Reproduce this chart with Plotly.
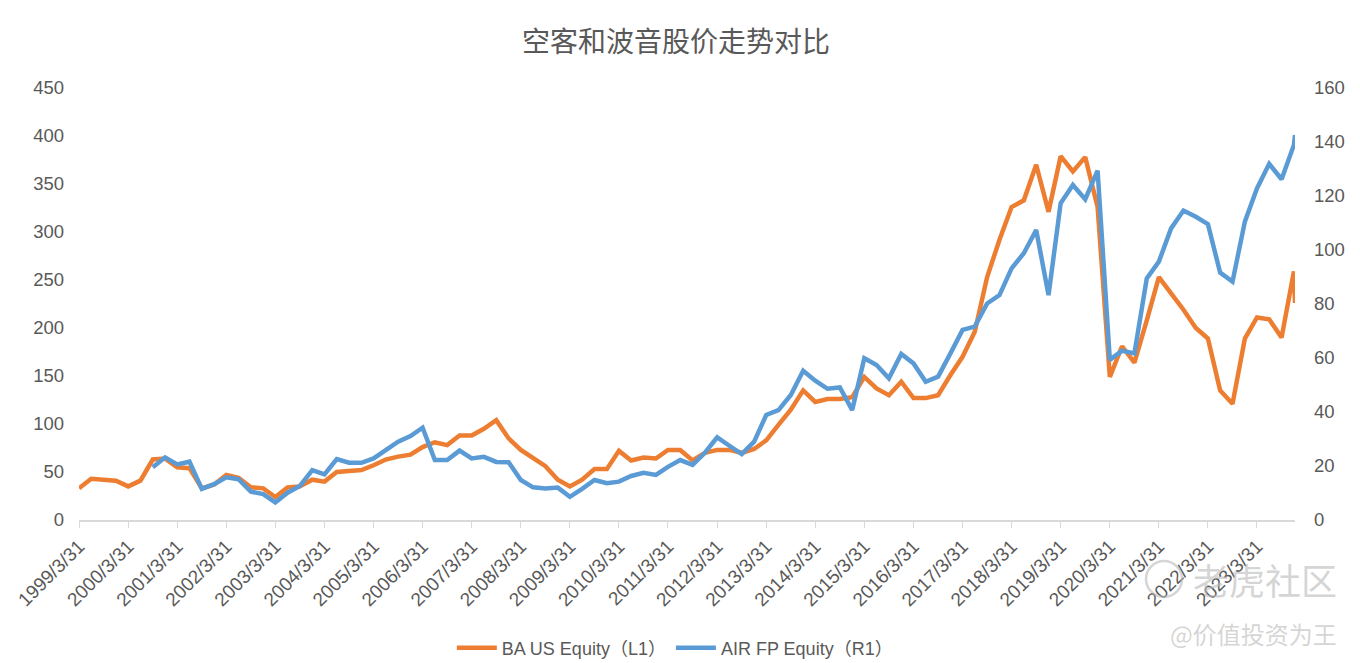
import pandas as pd
import plotly.graph_objects as go

# Quarter-end dates 1999/3/31 .. 2023/12/31, plus the latest observation
quarter_dates = list(pd.date_range("1999-03-31", periods=100, freq="QE"))
last_date = pd.Timestamp("2024-01-08")
dates = quarter_dates + [last_date]

ba_us = [33, 43, 42, 41, 35, 41, 63, 64, 55, 54,
         33, 37, 47, 44, 34, 33, 24, 34, 35, 42,
         40, 50, 51, 52, 57, 63, 66, 68, 76, 81,
         78, 88, 88, 95, 104, 85, 73, 64, 56, 42,
         35, 42, 53, 53, 72, 62, 65, 64, 73, 73,
         62, 70, 73, 73, 70, 74, 83, 99, 115, 135,
         123, 126, 126, 128, 149, 137, 130, 144, 127, 127,
         130, 151, 170, 196, 253, 292, 326, 333, 370, 321,
         379, 363, 378, 326, 149, 181, 164, 208, 253, 236,
         219, 200, 189, 135, 121, 189, 211, 209, 190, 259,
         226]

air_fp = [None, None, None, None, None, None,
          19.5, 23.2, 20.6, 21.6,
          11.5, 13.3, 15.8, 15.1, 10.5, 9.6, 6.5, 10.1, 12.6, 18.5,
          16.9, 22.6, 21.2, 21.2, 22.8, 25.9, 29.0, 31.1, 34.2, 22.2,
          22.2, 25.7, 22.8, 23.4, 21.5, 21.4, 14.8, 12.1, 11.7, 12.0,
          8.6, 11.5, 14.8, 13.6, 14.2, 16.3, 17.5, 16.7, 19.7, 22.2,
          20.4, 24.9, 30.6, 27.5, 24.4, 29.0, 38.9, 40.7, 46.3, 55.3,
          51.6, 48.6, 49.1, 40.7, 59.9, 57.4, 52.5, 61.5, 58.0, 51.2,
          53.1, 61.7, 70.4, 71.6, 80.2, 83.3, 93.2, 98.8, 107.4, 83.3,
          117.3, 124.1, 118.8, 129.4, 59.3, 62.7, 61.7, 89.5, 95.7, 108.0,
          114.6, 112.3, 109.6, 91.6, 88.3, 110.5, 122.8, 131.9, 126.2, 138.9,
          142.6]

tick_years = list(range(1999, 2024))
tick_vals = [f"{y}-03-31" for y in tick_years]
tick_text = [f"{y}/3/31" for y in tick_years]

title_text = "空客和波音股价走势对比"
name_ba = "BA US Equity（L1）"
name_air = "AIR FP Equity（R1）"
watermark_main = "老虎社区"
watermark_user = "@价值投资为王"

FONT = "Liberation Sans, Noto Sans CJK SC, sans-serif"
GREY = "#595959"
WM = "rgba(185,185,185,0.6)"

# the page body adds an 8px offset; size the figure so the plot lands where the reference has it
W, H = 1352, 655
PW = 1216  # plot-area width (px)
PH = 432   # plot-area height (px)


def px(x):  # page x -> paper x
    return (x - 79) / PW


def py(y):  # page y -> paper y
    return (520 - y) / PH


fig = go.Figure()
fig.add_trace(go.Scatter(x=dates, y=ba_us, name=name_ba, mode="lines",
                         line=dict(color="#ED7D31", width=4.5), yaxis="y"))
fig.add_trace(go.Scatter(x=dates, y=air_fp, name=name_air, mode="lines",
                         line=dict(color="#5B9BD5", width=4.5), yaxis="y2"))

fig.update_layout(
    width=W, height=H,
    paper_bgcolor="white", plot_bgcolor="white",
    margin=dict(l=71, r=65, t=80, b=143, autoexpand=False),
    font=dict(family=FONT, color=GREY),
    title=dict(text=title_text, x=(676 - 8) / W, xanchor="center", y=1 - 34 / H, yanchor="middle",
               font=dict(family="Noto Sans CJK SC", size=28, color=GREY)),
    xaxis=dict(type="date", range=[quarter_dates[0], last_date], automargin=False,
               tickvals=tick_vals, ticktext=tick_text, tickangle=-45,
               showgrid=False, showline=True, linecolor="#D9D9D9", linewidth=1.5,
               ticks="outside", ticklen=6, tickcolor="#D9D9D9",
               tickfont=dict(size=19, color=GREY), zeroline=False),
    yaxis=dict(range=[0, 450], tickvals=list(range(0, 451, 50)), showgrid=False, automargin=False,
               zeroline=False, showline=False, ticklabelstandoff=14,
               tickfont=dict(size=18.5, color=GREY)),
    yaxis2=dict(range=[0, 160], tickvals=list(range(0, 161, 20)), overlaying="y", side="right",
                showgrid=False, zeroline=False, showline=False, ticklabelstandoff=18, automargin=False,
                tickfont=dict(size=18.5, color=GREY)),
    legend=dict(orientation="h", x=0.49, xanchor="center", y=py(648), yanchor="middle",
                font=dict(size=18, color=GREY), itemwidth=40, traceorder="normal"),
    showlegend=True,
)

fig.add_annotation(text=watermark_main, xref="paper", yref="paper", x=px(1265), y=py(579),
                   xanchor="center", yanchor="middle", showarrow=False,
                   font=dict(family="Noto Sans CJK SC", size=36, color=WM))
fig.add_annotation(text=watermark_user, xref="paper", yref="paper", x=px(1253), y=py(633),
                   xanchor="center", yanchor="middle", showarrow=False,
                   font=dict(family="Noto Sans CJK SC", size=24, color=WM))
fig.add_shape(type="circle", xref="paper", yref="paper",
              x0=px(1146), x1=px(1182), y0=py(597), y1=py(561),
              line=dict(color=WM, width=2.5))

fig.write_html("out.html")
